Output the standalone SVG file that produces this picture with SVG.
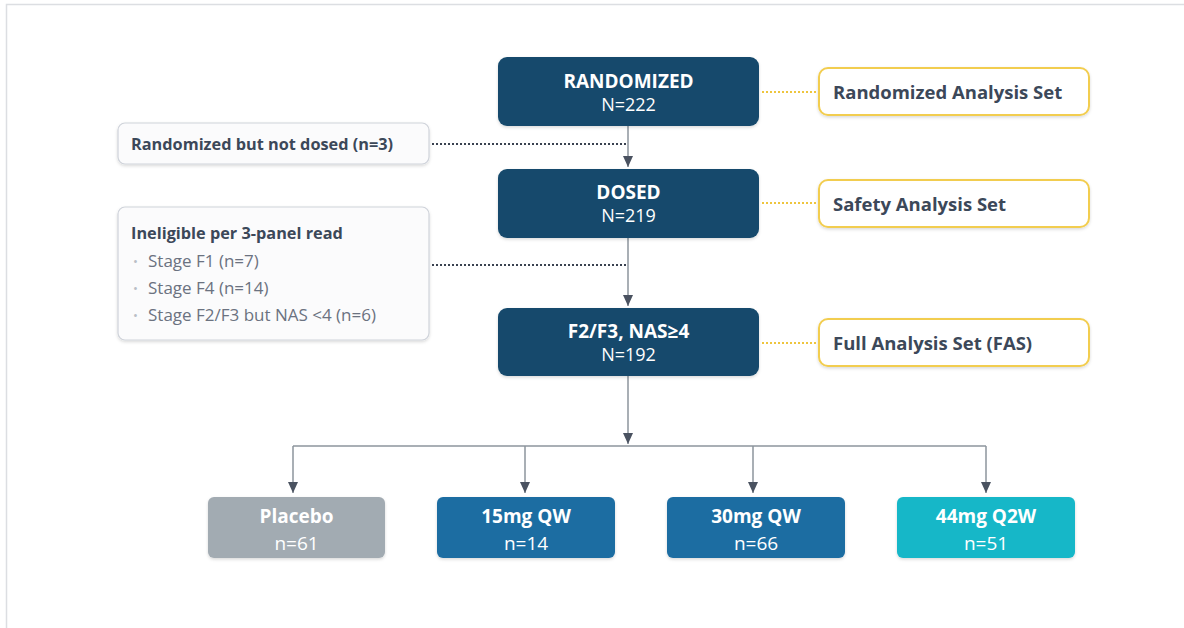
<svg xmlns="http://www.w3.org/2000/svg" width="1184" height="628" viewBox="0 0 1184 628">
<style>
.bg{fill:#ffffff}
.frame{fill:none;stroke:#dcdee2;stroke-width:1.5}
.main{fill:#154a6c}
.set{fill:#ffffff;stroke:#f2cd4f;stroke-width:2}
.note{fill:#fbfbfc;stroke:#cfd3da;stroke-width:1.2}
.t{font-family:"Open Sans","Liberation Sans",sans-serif}
.mt{fill:#ffffff;font-size:19px;font-weight:700;text-anchor:middle}
.mn{fill:#ffffff;font-size:18px;font-weight:400;text-anchor:middle}
.st{fill:#3c4859;font-size:18.5px;font-weight:700}
.nt{fill:#3c4859;font-size:16.3px;font-weight:700}
.bt{fill:#6b7280;font-size:17px;font-weight:400}
.bul{fill:#b9bec6;font-size:13px}
.arm{fill:#ffffff;font-size:19px;font-weight:700;text-anchor:middle}
.arn{fill:#ffffff;font-size:19px;font-weight:400;text-anchor:middle}
.flow{fill:none;stroke:#8d949d;stroke-width:1.5}
.dotk{fill:none;stroke:#3a4250;stroke-width:2;stroke-dasharray:2 2}
.doty{fill:none;stroke:#eec53e;stroke-width:2;stroke-dasharray:2 2}
</style>
<defs>
<marker id="ah" markerWidth="12" markerHeight="10" refX="11" refY="5" orient="auto" markerUnits="userSpaceOnUse">
<path d="M0,0 L11,5 L0,10 Z" fill="#4a5260"/>
</marker>
<filter id="sh" x="-5%" y="-10%" width="110%" height="130%">
<feDropShadow dx="0" dy="1.5" stdDeviation="1.5" flood-color="#000" flood-opacity="0.15"/>
</filter>
</defs>
<rect class="bg" x="0" y="0" width="1184" height="628"/>
<rect class="frame" x="6.5" y="4.5" width="1220" height="700"/>

<g id="connectors">
<path class="flow" d="M628,126 V167" marker-end="url(#ah)"/>
<path class="flow" d="M628,238 V306" marker-end="url(#ah)"/>
<path class="flow" d="M628,376 V444" marker-end="url(#ah)"/>
<path class="flow" d="M293,446 H986"/>
<path class="flow" d="M293,446 V493" marker-end="url(#ah)"/>
<path class="flow" d="M525,446 V493" marker-end="url(#ah)"/>
<path class="flow" d="M753,446 V493" marker-end="url(#ah)"/>
<path class="flow" d="M986,446 V493" marker-end="url(#ah)"/>
<path class="dotk" d="M432,144 H627"/>
<path class="dotk" d="M432,265 H627"/>
<path class="doty" d="M762,92 H816"/>
<path class="doty" d="M762,203 H816"/>
<path class="doty" d="M762,343 H816"/>
</g>

<g id="randomized">
<rect class="main" x="498" y="57" width="261" height="69" rx="9" filter="url(#sh)"/>
<text class="t mt" x="628.5" y="88">RANDOMIZED</text>
<text class="t mn" x="628.5" y="111">N=222</text>
</g>
<g id="dosed">
<rect class="main" x="498" y="169" width="261" height="69" rx="9" filter="url(#sh)"/>
<text class="t mt" x="628.5" y="199">DOSED</text>
<text class="t mn" x="628.5" y="222">N=219</text>
</g>
<g id="f2f3">
<rect class="main" x="498" y="308" width="261" height="68" rx="9" filter="url(#sh)"/>
<text class="t mt" x="628.5" y="338">F2/F3, NAS≥4</text>
<text class="t mn" x="628.5" y="361">N=192</text>
</g>

<g id="ras">
<rect class="set" x="819" y="68" width="270" height="47" rx="9" filter="url(#sh)"/>
<text class="t st" x="833" y="99">Randomized Analysis Set</text>
</g>
<g id="sas">
<rect class="set" x="819" y="180" width="270" height="47" rx="9" filter="url(#sh)"/>
<text class="t st" x="833" y="211">Safety Analysis Set</text>
</g>
<g id="fas">
<rect class="set" x="819" y="319" width="270" height="47" rx="9" filter="url(#sh)"/>
<text class="t st" x="833" y="350">Full Analysis Set (FAS)</text>
</g>

<g id="notdosed">
<rect class="note" x="118" y="123" width="311" height="41" rx="7" filter="url(#sh)"/>
<text class="t nt" x="131" y="150">Randomized but not dosed (n=3)</text>
</g>
<g id="ineligible">
<rect class="note" x="118" y="207" width="311" height="133" rx="7" filter="url(#sh)"/>
<text class="t nt" x="131" y="239">Ineligible per 3-panel read</text>
<text class="t bul" x="133" y="266">•</text>
<text class="t bt" x="148" y="267">Stage F1 (n=7)</text>
<text class="t bul" x="133" y="293">•</text>
<text class="t bt" x="148" y="294">Stage F4 (n=14)</text>
<text class="t bul" x="133" y="320">•</text>
<text class="t bt" x="148" y="321">Stage F2/F3 but NAS &lt;4 (n=6)</text>
</g>

<g id="placebo">
<rect x="208" y="497" width="177" height="61" rx="6" fill="#a2abb2" filter="url(#sh)"/>
<text class="t arm" x="296.5" y="523">Placebo</text>
<text class="t arn" x="296.5" y="550">n=61</text>
</g>
<g id="qw15">
<rect x="437" y="497" width="178" height="61" rx="6" fill="#1e6da2" filter="url(#sh)"/>
<text class="t arm" x="526" y="523">15mg QW</text>
<text class="t arn" x="526" y="550">n=14</text>
</g>
<g id="qw30">
<rect x="667" y="497" width="178" height="61" rx="6" fill="#1e6da2" filter="url(#sh)"/>
<text class="t arm" x="756" y="523">30mg QW</text>
<text class="t arn" x="756" y="550">n=66</text>
</g>
<g id="q2w44">
<rect x="897" y="497" width="178" height="61" rx="6" fill="#17b7c8" filter="url(#sh)"/>
<text class="t arm" x="986" y="523">44mg Q2W</text>
<text class="t arn" x="986" y="550">n=51</text>
</g>
</svg>
